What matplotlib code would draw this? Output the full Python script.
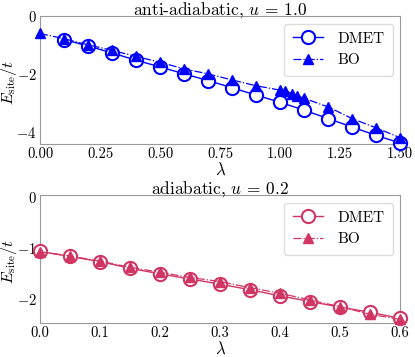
import matplotlib
matplotlib.use("Agg")
import matplotlib.pyplot as plt

plt.rcParams['font.family'] = 'serif'
plt.rcParams['font.serif'] = ['cmr10', 'DejaVu Serif']
plt.rcParams['mathtext.fontset'] = 'cm'
plt.rcParams['axes.formatter.use_mathtext'] = True
plt.rcParams['axes.unicode_minus'] = True

# anti-adiabatic, u = 1.0
lam_dmet_a = [0.1, 0.2, 0.3, 0.4, 0.5, 0.6, 0.7, 0.8, 0.9, 1.0, 1.1, 1.2, 1.3, 1.4, 1.5]
e_dmet_a = [-0.81, -1.03, -1.27, -1.52, -1.75, -1.99, -2.22, -2.47, -2.72, -2.97,
            -3.24, -3.53, -3.82, -4.11, -4.37]
lam_bo_a = [0.0, 0.1, 0.2, 0.3, 0.4, 0.5, 0.6, 0.7, 0.8, 0.9, 1.0, 1.02, 1.05, 1.07,
            1.1, 1.2, 1.3, 1.4, 1.5]
e_bo_a = [-0.60, -0.78, -0.99, -1.18, -1.39, -1.59, -1.82, -1.99, -2.20, -2.40, -2.55,
          -2.57, -2.67, -2.75, -2.83, -3.13, -3.53, -3.85, -4.19]

# adiabatic, u = 0.2
lam_b = [0.0, 0.05, 0.1, 0.15, 0.2, 0.25, 0.3, 0.35, 0.4, 0.45, 0.5, 0.55, 0.6]
e_dmet_b = [-1.07, -1.17, -1.27, -1.40, -1.51, -1.61, -1.71, -1.82, -1.94, -2.05,
            -2.16, -2.26, -2.38]
e_bo_b = [-1.08, -1.16, -1.26, -1.38, -1.48, -1.58, -1.66, -1.78, -1.89, -2.02,
          -2.15, -2.30, -2.40]

blue = '#0000ff'
pink = '#d03563'

fig = plt.figure(figsize=(4.15, 3.57), dpi=100)
ax1 = fig.add_axes([0.0964, 0.597, 0.868, 0.358])
ax2 = fig.add_axes([0.0964, 0.0966, 0.868, 0.357])


def style(ax, title):
    for s in ax.spines.values():
        s.set_color('#999999')
        s.set_linewidth(0.8)
    ax.tick_params(labelsize=10.5, length=0, pad=2.5)
    ax.set_xlabel(r'$\lambda$', fontsize=12)
    ax.set_ylabel(r'$E_{\mathrm{site}}/t$', fontsize=11.5, va='center')
    ax.yaxis.set_label_coords(-0.085, 0.48)
    ax.xaxis.set_label_coords(0.5, -0.14)
    ax.text(0.5, 1.012, title, transform=ax.transAxes, ha='center',
            va='baseline', fontsize=12.5)


ax1.plot(lam_dmet_a, e_dmet_a, '-', color=blue, marker='o', ms=9.5, mfc='white',
         mew=1.5, lw=1.0, label='DMET', clip_on=False, zorder=3)
ax1.plot(lam_bo_a, e_bo_a, '-.', color=blue, marker='^', ms=7, lw=0.9,
         label='BO', clip_on=False, zorder=4)
ax1.set_xlim(0, 1.5)
ax1.set_ylim(-4.4, 0)
ax1.set_xticks([0, 0.25, 0.5, 0.75, 1.0, 1.25, 1.5])
ax1.set_xticklabels(['0.00', '0.25', '0.50', '0.75', '1.00', '1.25', '1.50'])
ax1.set_yticks([0, -2, -4])
style(ax1, 'anti-adiabatic, $u$ = 1.0')
ax1.legend(loc='upper right', fontsize=11, framealpha=1, edgecolor='#dddddd',
           handlelength=2.0, borderpad=0.55, handletextpad=0.9)

ax2.plot(lam_b, e_dmet_b, '-', color=pink, marker='o', ms=9.5, mfc='white',
         mew=1.5, lw=1.0, label='DMET', clip_on=False, zorder=3)
ax2.plot(lam_b, e_bo_b, '-.', color=pink, marker='^', ms=7, lw=0.9,
         label='BO', clip_on=False, zorder=4)
ax2.set_xlim(0, 0.6)
ax2.set_ylim(-2.46, 0.03)
ax2.set_xticks([0, 0.1, 0.2, 0.3, 0.4, 0.5, 0.6])
ax2.set_xticklabels(['0.0', '0.1', '0.2', '0.3', '0.4', '0.5', '0.6'])
ax2.set_yticks([0, -1, -2])
style(ax2, 'adiabatic, $u$ = 0.2')
ax2.legend(loc='upper right', fontsize=11, framealpha=1, edgecolor='#dddddd',
           handlelength=2.0, borderpad=0.55, handletextpad=0.9)

fig.savefig('out.png', dpi=100)
